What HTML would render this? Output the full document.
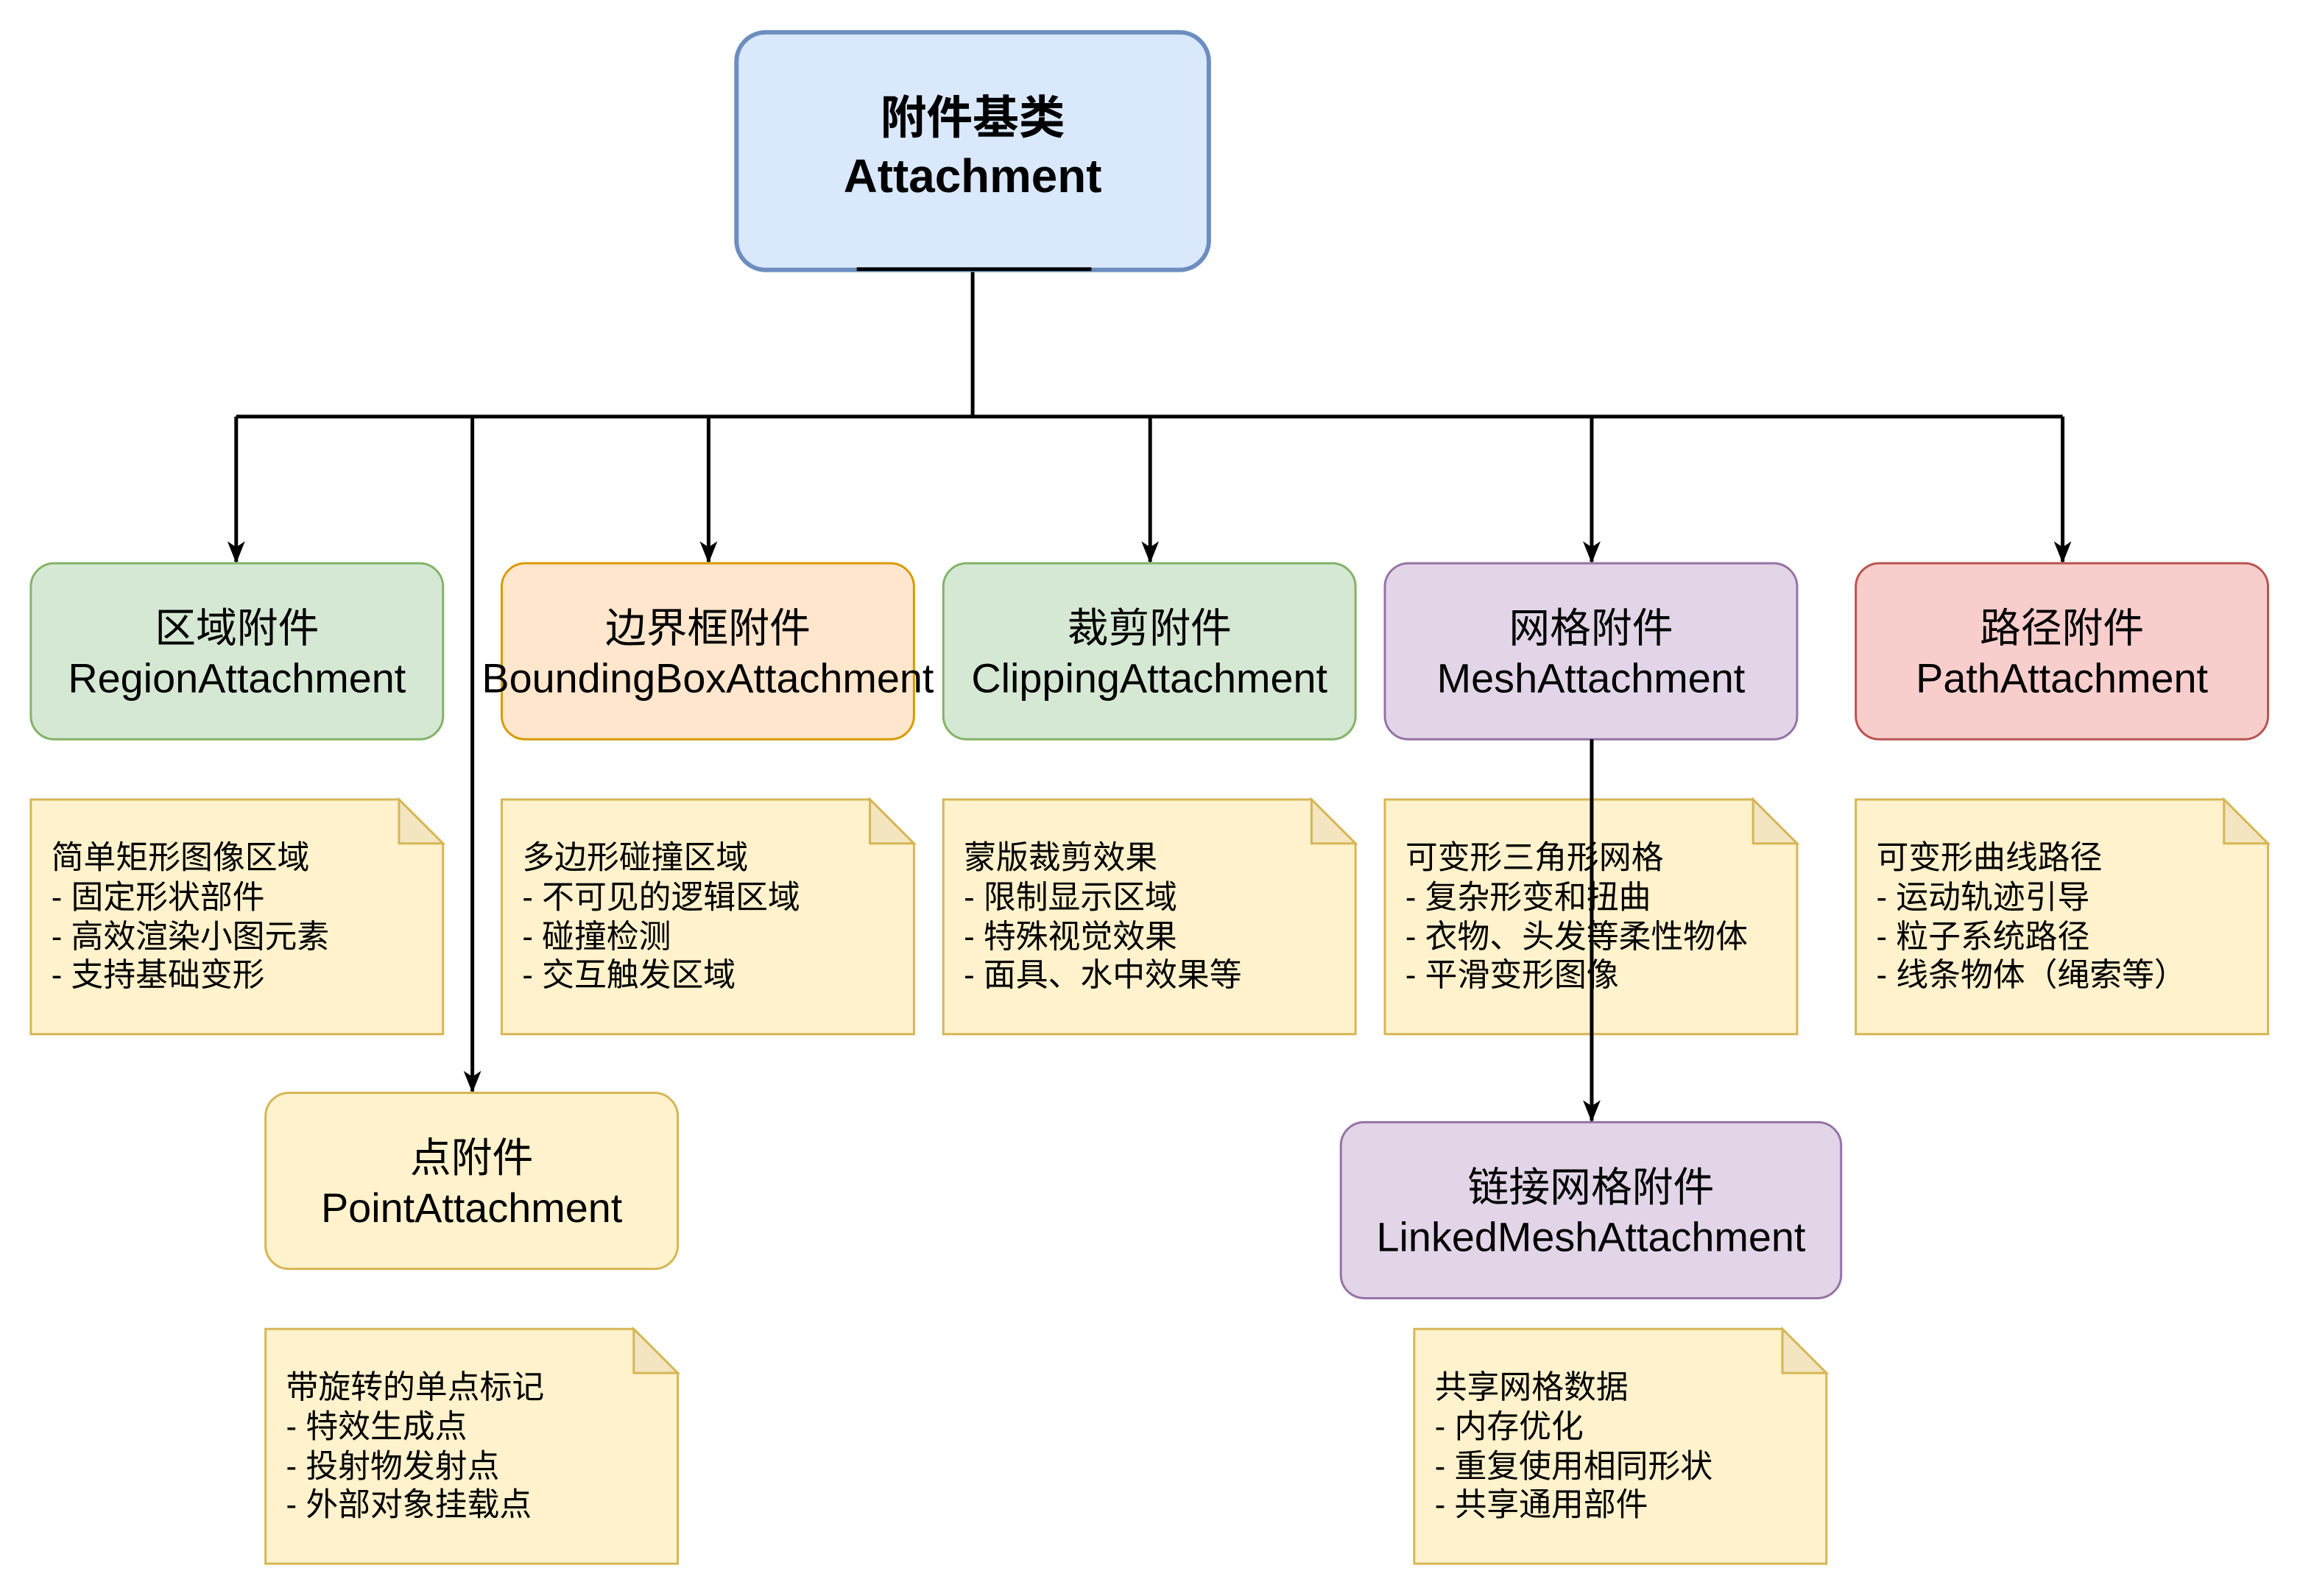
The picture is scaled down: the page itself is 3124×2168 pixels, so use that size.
<!DOCTYPE html>
<html><head><meta charset="utf-8"><style>
html,body{margin:0;padding:0;background:#fff;}
svg{display:block;}
text{font-family:"Liberation Sans","Noto Sans CJK SC",sans-serif;}
</style></head><body>
<svg width="3124" height="2168" viewBox="0 0 3124 2168" xmlns="http://www.w3.org/2000/svg">
<defs>
<marker id="a" markerWidth="24" markerHeight="30" refX="12" refY="28" orient="0" markerUnits="userSpaceOnUse">
<path d="M0,0 L12,8 L24,0 L12,30 Z" fill="#000"/>
</marker>
</defs>
<g transform="scale(0.9963)">
<!-- connectors -->
<g stroke="#000" stroke-width="5" fill="none">
<line x1="1326" y1="368" x2="1326" y2="568"/>
<line x1="322" y1="568" x2="2812" y2="568"/>
<line x1="322" y1="568" x2="322" y2="766" marker-end="url(#a)"/>
<line x1="966" y1="568" x2="966" y2="766" marker-end="url(#a)"/>
<line x1="1568" y1="568" x2="1568" y2="766" marker-end="url(#a)"/>
<line x1="2170" y1="568" x2="2170" y2="766" marker-end="url(#a)"/>
<line x1="2812" y1="568" x2="2812" y2="766" marker-end="url(#a)"/>
<line x1="644" y1="568" x2="644" y2="1488" marker-end="url(#a)"/>
</g>
<!-- root -->
<rect x="1004" y="44" width="644" height="324" rx="40" fill="#dae8fc" stroke="#6c8ebf" stroke-width="6"/>
<line x1="1168" y1="367" x2="1488" y2="367" stroke="#000" stroke-width="5"/>
<text x="1326" y="182" font-size="63" font-weight="bold" text-anchor="middle">附件基类</text>
<text x="1326" y="262" font-size="64" font-weight="bold" text-anchor="middle">Attachment</text>
<!-- boxes -->
<g stroke-width="3">
<rect x="42" y="768" width="562" height="240" rx="32" fill="#d5e8d4" stroke="#82b366"/>
<rect x="684" y="768" width="562" height="240" rx="32" fill="#ffe6cc" stroke="#d79b00"/>
<rect x="1286" y="768" width="562" height="240" rx="32" fill="#d5e8d4" stroke="#82b366"/>
<rect x="1888" y="768" width="562" height="240" rx="32" fill="#e1d5e7" stroke="#9673a6"/>
<rect x="2530" y="768" width="562" height="240" rx="32" fill="#f8cecc" stroke="#b85450"/>
<rect x="362" y="1490" width="562" height="240" rx="32" fill="#fff2cc" stroke="#d6b656"/>
<rect x="1828" y="1530" width="682" height="240" rx="32" fill="#e1d5e7" stroke="#9673a6"/>
</g>
<g font-size="56" text-anchor="middle">
<text x="323" y="876">区域附件</text><text x="323" y="944">RegionAttachment</text>
<text x="965" y="876">边界框附件</text><text x="965" y="944">BoundingBoxAttachment</text>
<text x="1567" y="876">裁剪附件</text><text x="1567" y="944">ClippingAttachment</text>
<text x="2169" y="876">网格附件</text><text x="2169" y="944">MeshAttachment</text>
<text x="2811" y="876">路径附件</text><text x="2811" y="944">PathAttachment</text>
<text x="643" y="1598">点附件</text><text x="643" y="1666">PointAttachment</text>
<text x="2169" y="1638">链接网格附件</text><text x="2169" y="1706">LinkedMeshAttachment</text>
</g>
<!-- notes -->
<g fill="#fff2cc" stroke="#d6b656" stroke-width="3">
<path d="M42,1090 H544 L604,1150 V1410 H42 Z"/>
<path d="M684,1090 H1186 L1246,1150 V1410 H684 Z"/>
<path d="M1286,1090 H1788 L1848,1150 V1410 H1286 Z"/>
<path d="M1888,1090 H2390 L2450,1150 V1410 H1888 Z"/>
<path d="M2530,1090 H3032 L3092,1150 V1410 H2530 Z"/>
<path d="M362,1812 H864 L924,1872 V2132 H362 Z"/>
<path d="M1928,1812 H2430 L2490,1872 V2132 H1928 Z"/>
</g>
<g fill="#f2e5c0" stroke="#d6b656" stroke-width="3">
<path d="M544,1090 V1150 H604 Z"/>
<path d="M1186,1090 V1150 H1246 Z"/>
<path d="M1788,1090 V1150 H1848 Z"/>
<path d="M2390,1090 V1150 H2450 Z"/>
<path d="M3032,1090 V1150 H3092 Z"/>
<path d="M864,1812 V1872 H924 Z"/>
<path d="M2430,1812 V1872 H2490 Z"/>
</g>
<g font-size="44">
<text x="70" y="1184">简单矩形图像区域</text><text x="70" y="1238">- 固定形状部件</text><text x="70" y="1292">- 高效渲染小图元素</text><text x="70" y="1344">- 支持基础变形</text>
<text x="712" y="1184">多边形碰撞区域</text><text x="712" y="1238">- 不可见的逻辑区域</text><text x="712" y="1292">- 碰撞检测</text><text x="712" y="1344">- 交互触发区域</text>
<text x="1314" y="1184">蒙版裁剪效果</text><text x="1314" y="1238">- 限制显示区域</text><text x="1314" y="1292">- 特殊视觉效果</text><text x="1314" y="1344">- 面具、水中效果等</text>
<text x="1916" y="1184">可变形三角形网格</text><text x="1916" y="1238">- 复杂形变和扭曲</text><text x="1916" y="1292">- 衣物、头发等柔性物体</text><text x="1916" y="1344">- 平滑变形图像</text>
<text x="2558" y="1184">可变形曲线路径</text><text x="2558" y="1238">- 运动轨迹引导</text><text x="2558" y="1292">- 粒子系统路径</text><text x="2558" y="1344">- 线条物体（绳索等）</text>
<text x="390" y="1906">带旋转的单点标记</text><text x="390" y="1960">- 特效生成点</text><text x="390" y="2014">- 投射物发射点</text><text x="390" y="2066">- 外部对象挂载点</text>
<text x="1956" y="1906">共享网格数据</text><text x="1956" y="1960">- 内存优化</text><text x="1956" y="2014">- 重复使用相同形状</text><text x="1956" y="2066">- 共享通用部件</text>
</g>
<line x1="2170" y1="1008" x2="2170" y2="1528" stroke="#000" stroke-width="5" marker-end="url(#a)"/>
</g>
</svg>
</body></html>
